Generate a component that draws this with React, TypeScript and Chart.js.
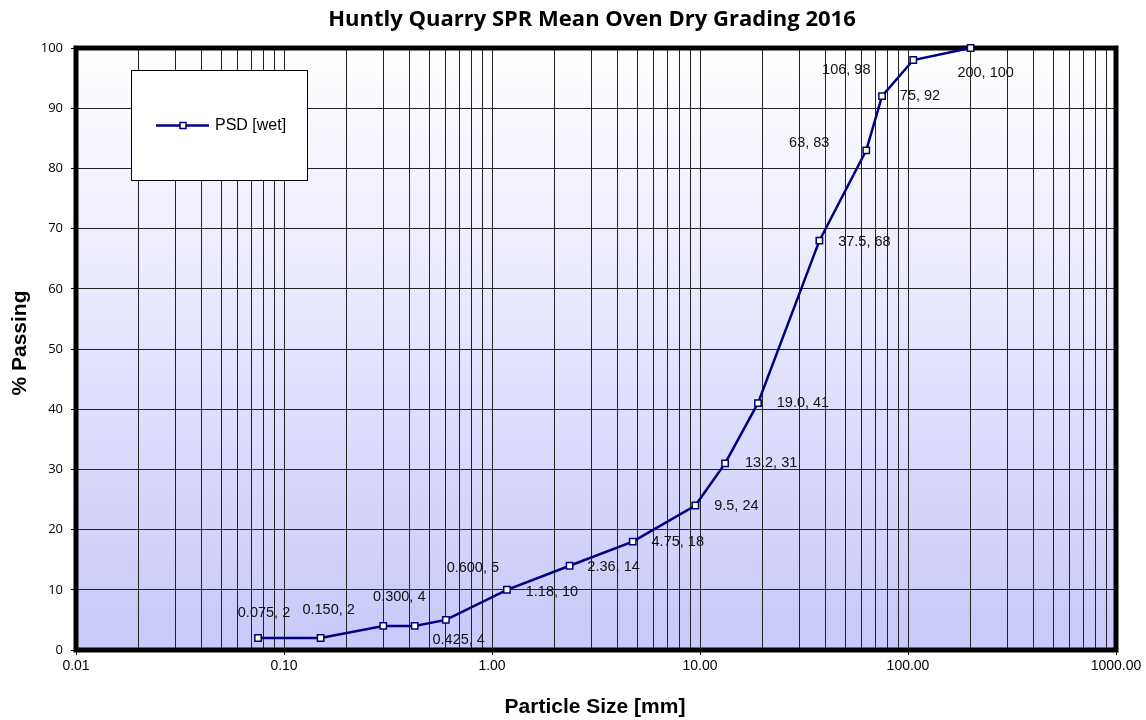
import React, { useEffect, useRef } from 'react';
import { Chart, registerables } from 'chart.js';

Chart.register(...registerables);

const chartTitle = 'Huntly Quarry SPR Mean Oven Dry Grading 2016';
const xAxisTitle = 'Particle Size [mm]';
const yAxisTitle = '% Passing';
const seriesName = 'PSD [wet]';

const particleSizes = [0.075, 0.15, 0.3, 0.425, 0.6, 1.18, 2.36, 4.75, 9.5, 13.2, 19.0, 37.5, 63, 75, 106, 200];
const percentPassing = [2, 2, 4, 4, 5, 10, 14, 18, 24, 31, 41, 68, 83, 92, 98, 100];
const pointLabels = ['0.075, 2', '0.150, 2', '0.300, 4', '0.425, 4', '0.600, 5', '1.18, 10', '2.36, 14', '4.75, 18', '9.5, 24', '13.2, 31', '19.0, 41', '37.5, 68', '63, 83', '75, 92', '106, 98', '200, 100'];

const decades = [0.01, 0.1, 1, 10, 100, 1000];
const xTickLabels = ['0.01', '0.10', '1.00', '10.00', '100.00', '1000.00'];
const minorMultipliers = [1, 2, 3, 4, 5, 6, 7, 8, 9];

// label placement offsets (px) from each point to the label's centre
const labelOffsets: [number, number][] = [
  [6, -25], [8, -28], [16, -29], [44, 14], [27, -52], [45, 2], [44, 1], [45, 0],
  [41, 0], [46, 0], [45, 0], [45, 1], [-57, -7], [38, 0], [-67, 10], [15, 25],
];

const LINE_COLOR = '#000080';
const ARIAL = '"Liberation Sans", Arial, sans-serif';

function decadeIndex(v: number): number {
  return decades.findIndex((d) => Math.abs(v / d - 1) < 1e-6);
}

const decorPlugin = {
  id: 'decor',
  beforeDraw(chart: any) {
    const { ctx, chartArea: a } = chart;
    ctx.save();
    ctx.fillStyle = '#ffffff';
    ctx.fillRect(0, 0, chart.width, chart.height);
    const g = ctx.createLinearGradient(0, a.top, 0, a.bottom);
    g.addColorStop(0, '#ffffff');
    g.addColorStop(1, '#c8c8fa');
    ctx.fillStyle = g;
    ctx.fillRect(a.left, a.top, a.right - a.left, a.bottom - a.top);
    ctx.restore();
  },
  beforeDatasetsDraw(chart: any) {
    const { ctx, chartArea: a } = chart;
    ctx.save();
    ctx.strokeStyle = '#000';
    ctx.lineWidth = 5;
    ctx.strokeRect(a.left, a.top, a.right - a.left, a.bottom - a.top);
    ctx.restore();
  },
  afterDatasetsDraw(chart: any) {
    const { ctx } = chart;
    const meta = chart.getDatasetMeta(0);
    ctx.save();
    // data labels
    ctx.fillStyle = '#111';
    ctx.font = `14.5px ${ARIAL}`;
    ctx.textAlign = 'center';
    ctx.textBaseline = 'middle';
    meta.data.forEach((pt: any, i: number) => {
      const [dx, dy] = labelOffsets[i];
      ctx.fillText(pointLabels[i], pt.x + dx, pt.y + dy);
    });

    // legend box
    const lx = 131, ly = 70, lw = 176, lh = 110;
    ctx.fillStyle = '#ffffff';
    ctx.fillRect(lx, ly, lw, lh);
    ctx.strokeStyle = '#000';
    ctx.lineWidth = 1;
    ctx.strokeRect(lx + 0.5, ly + 0.5, lw, lh);
    ctx.strokeStyle = LINE_COLOR;
    ctx.lineWidth = 2.5;
    ctx.beginPath();
    ctx.moveTo(156, 125.5);
    ctx.lineTo(209, 125.5);
    ctx.stroke();
    ctx.fillStyle = '#ffffcc';
    ctx.fillRect(180, 122.5, 6, 6);
    ctx.lineWidth = 1.5;
    ctx.strokeRect(180, 122.5, 6, 6);
    ctx.fillStyle = '#000';
    ctx.font = `16px ${ARIAL}`;
    ctx.textAlign = 'left';
    ctx.textBaseline = 'middle';
    ctx.fillText(seriesName, 215, 126);

    // title
    ctx.font = `bold 22px "Open Sans", sans-serif`;
    ctx.textAlign = 'center';
    ctx.fillText(chartTitle, 592, 20);

    // axis titles
    ctx.font = `bold 21px ${ARIAL}`;
    ctx.fillText(xAxisTitle, 595, 707);
    ctx.translate(20, 343);
    ctx.rotate(-Math.PI / 2);
    ctx.fillText(yAxisTitle, 0, 0);
    ctx.restore();
  },
};

export default function App() {
  const ref = useRef<HTMLCanvasElement | null>(null);
  useEffect(() => {
    document.body.style.margin = '0';
    const canvas = ref.current!;
    const chart = new Chart(canvas, {
      type: 'line',
      data: {
        datasets: [
          {
            label: seriesName,
            data: particleSizes.map((x, i) => ({ x, y: percentPassing[i] })),
            borderColor: LINE_COLOR,
            borderWidth: 2.5,
            pointStyle: 'rect',
            pointRadius: 4.5,
            pointBorderWidth: 1.5,
            pointBackgroundColor: '#ffffcc',
            pointBorderColor: LINE_COLOR,
            tension: 0,
            clip: false as any,
          },
        ],
      },
      options: {
        animation: false,
        responsive: false,
        devicePixelRatio: 1,
        layout: { padding: { top: 48, right: 30, left: 0, bottom: 0 } },
        plugins: { legend: { display: false }, title: { display: false }, tooltip: { enabled: false } },
        scales: {
          x: {
            type: 'logarithmic',
            min: 0.01,
            max: 1000,
            afterBuildTicks: (s: any) => {
              const vals: number[] = [];
              decades.forEach((d, i) => {
                if (i === decades.length - 1) vals.push(d);
                else minorMultipliers.forEach((m) => vals.push(d * m));
              });
              s.ticks = vals.map((v) => ({ value: v }));
            },
            afterFit: (s: any) => {
              s.height = 70;
            },
            ticks: {
              autoSkip: false,
              maxRotation: 0,
              padding: 3,
              color: '#000',
              font: { family: ARIAL, size: 14 },
              callback: (v: any) => {
                const i = decadeIndex(Number(v));
                return i >= 0 ? xTickLabels[i] : '';
              },
            },
            grid: {
              color: '#222',
              lineWidth: 1,
              tickLength: 5,
              tickColor: (c: any) => (c.tick && decadeIndex(c.tick.value) >= 0 ? '#000' : 'rgba(0,0,0,0)'),
            },
            border: { display: false },
          },
          y: {
            type: 'linear',
            min: 0,
            max: 100,
            afterFit: (s: any) => {
              s.width = 76;
            },
            ticks: {
              stepSize: 10,
              padding: 8,
              color: '#000',
              font: { family: '"Open Sans", sans-serif', size: 13 },
            },
            grid: { color: '#222', lineWidth: 1, tickLength: 5, tickColor: '#000' },
            border: { display: false },
          },
        },
      },
      plugins: [decorPlugin],
    } as any);
    return () => chart.destroy();
  }, []);
  return <canvas ref={ref} width={1146} height={720} style={{ display: 'block' }} />;
}
